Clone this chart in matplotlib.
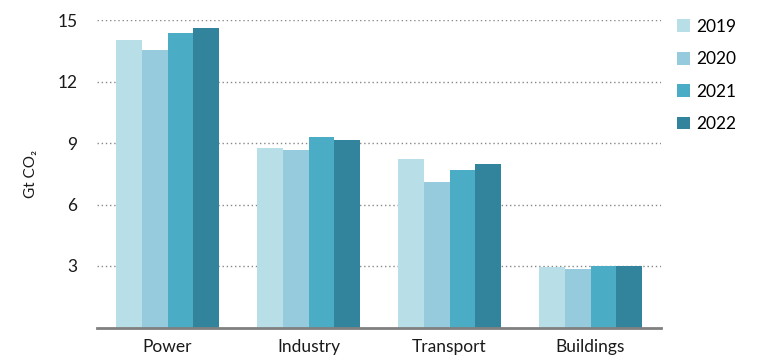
import matplotlib
matplotlib.use("Agg")
import matplotlib.pyplot as plt
import numpy as np

plt.rcParams['font.family'] = ['Lato', 'DejaVu Sans']

sectors = ['Power', 'Industry', 'Transport', 'Buildings']
years = ['2019', '2020', '2021', '2022']
emissions = {
    '2019': [14.02, 8.74, 8.23, 2.94],
    '2020': [13.52, 8.67, 7.08, 2.87],
    '2021': [14.35, 9.28, 7.70, 3.01],
    '2022': [14.60, 9.13, 7.96, 2.99],
}
colors = ['#b8dee8', '#95cbdc', '#4bacc6', '#31849b']
yticks = [3, 6, 9, 12, 15]

fig = plt.figure(figsize=(7.68, 3.62), dpi=100)
ax = fig.add_axes([97 / 768, 34.5 / 362, 564 / 768, 307.5 / 362])

x = np.arange(len(sectors))
w = 0.182
for i, yr in enumerate(years):
    ax.bar(x + (i - 1.5) * w, emissions[yr], width=w, color=colors[i],
           label=yr, zorder=2)

ax.set_xlim(-0.5, 3.5)
ax.set_ylim(0, 15)
ax.set_yticks(yticks)
ax.set_xticks(x)
ax.set_xticklabels(sectors, fontsize=12.5, color='#1a1a1a')
ax.tick_params(axis='y', labelsize=12.5, length=0, pad=14, labelcolor='#1a1a1a')
ax.tick_params(axis='x', length=0, pad=8)
ax.yaxis.grid(True, linestyle=(0, (1, 2)), color='#888888', linewidth=1, zorder=0)
for s in ['top', 'right', 'left']:
    ax.spines[s].set_visible(False)
ax.spines['bottom'].set_color('#808080')
ax.spines['bottom'].set_linewidth(2)
ax.spines['bottom'].set_zorder(3)
ax.set_ylabel('Gt CO₂', fontsize=11, color='#1a1a1a', labelpad=14)

ax.legend(loc='upper left', bbox_to_anchor=(1.0, 1.055), frameon=False,
          fontsize=12.5, handlelength=0.75, handleheight=0.75, labelspacing=0.95,
          handletextpad=0.4)

fig.savefig('out.png', dpi=100)
